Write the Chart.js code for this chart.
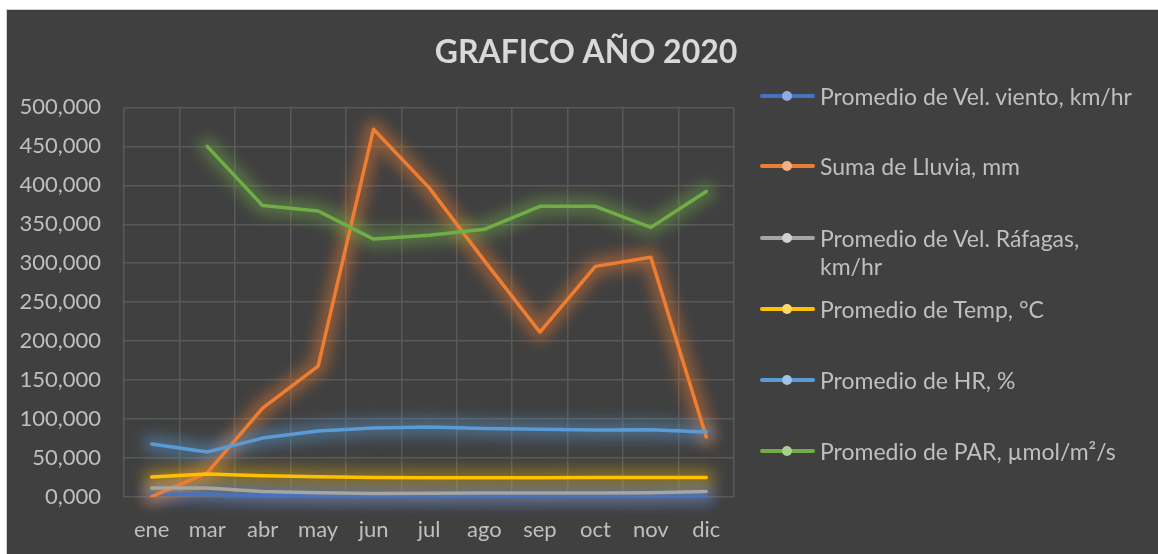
<!DOCTYPE html>
<html>
<head>
<meta charset="utf-8">
<script src="https://cdn.jsdelivr.net/npm/chart.js@4.4.1/dist/chart.umd.min.js"></script>
<style>
  html, body { margin: 0; padding: 0; background: #ffffff; }
  body { width: 1158px; height: 554px; position: relative; overflow: hidden; font-family: Lato, sans-serif; }
  #panel { position: absolute; left: 6px; top: 9px; right: 0; bottom: 0; background: #404040;
           border-left: 1px solid #d0d0d0; border-top: 1px solid #d0d0d0; }
  #wrap { position: absolute; left: 0; top: 0; width: 1158px; height: 554px; }
  #legend { position: absolute; left: 760px; top: 0; width: 398px; }
  .item { position: absolute; left: 0; display: flex; align-items: flex-start; }
  .icon { position: relative; width: 55px; height: 28px; flex: none; }
  .icon .ln { position: absolute; left: 0; top: 12px; width: 55px; height: 4px; border-radius: 2px; }
  .icon .dot { position: absolute; left: 22px; top: 9px; width: 10px; height: 10px; border-radius: 50%; }
  .txt { margin-left: 5px; width: 318px; color: #bfbfbf; font-size: 23px; line-height: 28px; }
</style>
</head>
<body>
<div id="panel"></div>
<div id="wrap"><canvas id="chart"></canvas></div>
<div id="legend"></div>
<script>
// meses (no hay febrero en la tabla)
const meses = ["ene", "mar", "abr", "may", "jun", "jul", "ago", "sep", "oct", "nov", "dic"];

const velViento = [3.6, 3.4, 1.6, 1.2, 1.1, 1.0, 1.2, 1.1, 1.0, 1.0, 1.0];
const lluvia = [0.5, 31, 114, 168, 472, 397, 303, 211.5, 296, 307.7, 77];
const velRafagas = [11.5, 11.6, 7.0, 5.5, 4.5, 4.8, 5.0, 5.0, 5.2, 5.5, 7.0];
const temp = [25.6, 29.5, 27.3, 26.0, 25.0, 24.8, 24.8, 24.8, 25.0, 25.0, 25.0];
const humedad = [68.0, 57.7, 75.6, 84.6, 88.5, 89.7, 88.0, 87.0, 86.0, 86.3, 83.5];
const par = [null, 450, 374, 367, 331, 336, 343.5, 373, 373, 346, 392];

const nombres = [
  "Promedio de Vel. viento, km/hr",
  "Suma de Lluvia, mm",
  "Promedio de Vel. Ráfagas, km/hr",
  "Promedio de Temp, °C",
  "Promedio de HR, %",
  "Promedio de PAR, µmol/m²/s"
];
const series = [velViento, lluvia, velRafagas, temp, humedad, par];
const colores = ["#4472c4", "#ed7d31", "#a5a5a5", "#ffc000", "#5b9bd5", "#70ad47"];
const puntos = ["#8faadc", "#f4b183", "#d0d0d0", "#ffd966", "#9dc3e6", "#a9d18e"];
const brillo = ["rgba(68,114,196,0.45)", "rgba(237,125,49,0.45)", "rgba(165,165,165,0.35)",
                "rgba(255,192,0,0.35)", "rgba(91,155,213,0.45)", "rgba(112,173,71,0.45)"];

// resplandor suave debajo de cada línea
const glowPlugin = {
  id: "glow",
  beforeDatasetsDraw(chart) {
    const ctx = chart.ctx;
    chart.data.datasets.forEach((ds, di) => {
      const meta = chart.getDatasetMeta(di);
      ctx.save();
      ctx.filter = "blur(7px)";
      ctx.strokeStyle = ds.glowColor;
      ctx.lineWidth = 18;
      ctx.lineJoin = "round";
      ctx.lineCap = "round";
      ctx.beginPath();
      let started = false;
      meta.data.forEach((p, i) => {
        if (ds.data[i] === null) { started = false; return; }
        if (!started) { ctx.moveTo(p.x, p.y); started = true; }
        else ctx.lineTo(p.x, p.y);
      });
      ctx.stroke();
      ctx.restore();
    });
  }
};

const datasets = series.map((d, i) => ({
  label: nombres[i],
  data: d,
  borderColor: colores[i],
  backgroundColor: colores[i],
  glowColor: brillo[i],
  borderWidth: 3.5,
  borderCapStyle: "round",
  borderJoinStyle: "round",
  pointRadius: 0,
  tension: 0,
  spanGaps: false,
  order: series.length - i
}));

Chart.defaults.font.family = "Lato, sans-serif";

const ctx = document.getElementById("chart").getContext("2d");
const myChart = new Chart(ctx, {
  type: "line",
  data: { labels: meses, datasets: datasets },
  options: {
    responsive: true,
    maintainAspectRatio: false,
    animation: false,
    layout: { padding: { top: 14, right: 0, bottom: 12, left: 14 } },
    plugins: {
      legend: { display: false },
      tooltip: { enabled: false },
      title: {
        display: true,
        text: "GRAFICO AÑO 2020",
        color: "#d9d9d9",
        font: { size: 32, weight: "bold" },
        padding: { top: 19, bottom: 36 }
      }
    },
    scales: {
      x: {
        offset: true,
        afterFit: (scale) => { scale.height = 45; },
        grid: { color: "#595959", lineWidth: 1.5, offset: true, drawTicks: false },
        border: { display: false },
        ticks: { color: "#bfbfbf", font: { size: 22 }, padding: 20, maxRotation: 0, autoSkip: false }
      },
      y: {
        min: 0,
        max: 500,
        afterFit: (scale) => { scale.width = 110; },
        grid: { color: "#595959", lineWidth: 1.5, drawTicks: false },
        border: { display: false },
        ticks: {
          stepSize: 50,
          color: "#bfbfbf",
          font: { size: 22 },
          padding: 23,
          callback: (v) => v.toFixed(3).replace(".", ",")
        }
      },
      // eje vacío que deja sitio a la leyenda
      y2: {
        position: "right",
        afterFit: (scale) => { scale.width = 424; },
        grid: { display: false },
        border: { display: false },
        ticks: { display: false }
      }
    }
  },
  plugins: [glowPlugin]
});

// leyenda a la derecha
const legendTops = [82, 152, 224, 295, 366, 437];
const legend = document.getElementById("legend");
nombres.forEach((n, i) => {
  const it = document.createElement("div");
  it.className = "item";
  it.style.top = legendTops[i] + "px";
  it.innerHTML = '<div class="icon"><div class="ln" style="background:' + colores[i] +
    '"></div><div class="dot" style="background:' + puntos[i] + '"></div></div>' +
    '<div class="txt">' + n + '</div>';
  legend.appendChild(it);
});
</script>
</body>
</html>
